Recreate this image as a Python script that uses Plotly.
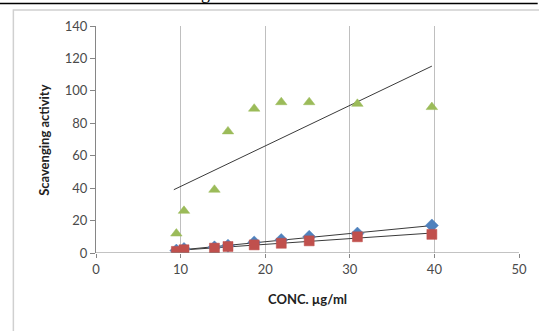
import numpy as np
import plotly.graph_objects as go

# ---- data ----
conc = [9.5, 10.4, 14.0, 15.6, 18.7, 21.9, 25.2, 30.9, 39.7]
series_blue = [1.5, 2.5, 3.5, 4.5, 6.5, 8.0, 10.0, 12.0, 17.0]
series_red = [1.0, 2.0, 3.0, 4.0, 5.0, 6.0, 7.5, 10.0, 11.5]
series_green = [12, 26, 39, 75, 89, 93, 93, 92, 90]
x_ticks = [0, 10, 20, 30, 40, 50]
y_ticks = [0, 20, 40, 60, 80, 100, 120, 140]

W, H = 539, 331
ML, MR, MT, MB = 96, 13, 26, 78
PW, PH = W - ML - MR, H - MT - MB

def px(xp):
    return (xp - ML) / PW

def py(yp):
    return 1 - (yp - MT) / PH

fig = go.Figure()

colors = {"blue": "#4F81BD", "red": "#C0504D", "green": "#9BBB59"}
series = [
    ("blue", series_blue, "diamond"),
    ("red", series_red, "square"),
    ("green", series_green, "triangle-up"),
]

# trendlines (linear fit over data range)
for name, ys, sym in series:
    k, b = np.polyfit(conc, ys, 1)
    xs = np.array([min(conc) - 0.3, max(conc)])
    fig.add_trace(go.Scatter(x=xs, y=k * xs + b, mode="lines",
                             line=dict(color="#3a3a3a", width=1),
                             showlegend=False, hoverinfo="skip"))

for name, ys, sym in series:
    fig.add_trace(go.Scatter(x=conc, y=ys, mode="markers",
                             marker=dict(symbol=sym, size=10,
                                         color=colors[name],
                                         line=dict(color=colors[name], width=0.5)),
                             showlegend=False))

FONT = "Lato, Liberation Sans, sans-serif"
tickfont = dict(family=FONT, size=13, color="#4a4a4a")

fig.update_layout(
    width=W, height=H,
    margin=dict(l=ML, r=MR, t=MT, b=MB),
    paper_bgcolor="white", plot_bgcolor="white",
    xaxis=dict(range=[0, 50], tickvals=x_ticks, showgrid=True, gridcolor="#BFBFBF",
               gridwidth=1, zeroline=False, showline=False,
               ticks="outside", ticklen=4, tickcolor="#868686",
               tickfont=tickfont, fixedrange=True),
    yaxis=dict(range=[0, 140], tickvals=y_ticks, showgrid=False, zeroline=False,
               showline=True, linecolor="#868686", linewidth=1,
               ticks="outside", ticklen=5, tickcolor="#868686",
               tickfont=tickfont, fixedrange=True),
    shapes=[
        # x axis line at y=0
        dict(type="line", xref="paper", yref="y", x0=0, x1=1, y0=0, y1=0,
             line=dict(color="#868686", width=1)),
        # chart area border
        dict(type="rect", xref="paper", yref="paper",
             x0=px(12), x1=px(560), y0=py(10), y1=py(360),
             line=dict(color="#D0D0D0", width=1.5)),
        # top black rule
        dict(type="line", xref="paper", yref="paper",
             x0=px(-5), x1=px(545), y0=py(3.5), y1=py(3.5),
             line=dict(color="black", width=1.5)),
    ],
    annotations=[
        dict(text="<b>CONC. µg/ml</b>", xref="paper", yref="paper",
             x=0.5, y=py(299), xanchor="center", yanchor="middle", showarrow=False,
             font=dict(family=FONT, size=13, color="#222")),
        dict(text="<b>Scavenging activity</b>", xref="paper", yref="paper",
             x=px(43), y=py(140), xanchor="center", yanchor="middle", textangle=-90,
             showarrow=False,
             font=dict(family=FONT, size=13, color="#222")),
        dict(text="g", xref="paper", yref="paper", x=px(207), y=py(5),
             xanchor="center", yanchor="bottom", showarrow=False,
             font=dict(family="Liberation Serif, serif", size=18, color="black")),
    ],
)

fig.write_html("out.html")
